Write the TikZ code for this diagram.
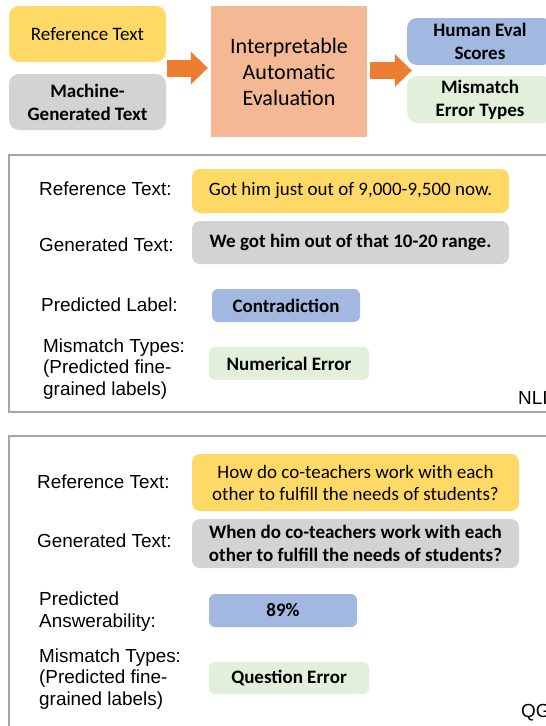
\documentclass[tikz,border=0pt]{standalone}
\usepackage{fontspec}
\setmainfont{Carlito}
\newfontfamily\lblfont{Liberation Sans}
\usetikzlibrary{arrows.meta,calc,positioning}
\definecolor{refyellow}{HTML}{FFD966}
\definecolor{gengray}{HTML}{D3D3D3}
\definecolor{predblue}{HTML}{A3B8E0}
\definecolor{mmgreen}{HTML}{E2EFDA}
\definecolor{evalsalmon}{HTML}{F4B994}
\definecolor{arroworange}{HTML}{ED7D31}
\definecolor{framegray}{HTML}{A6A6A6}

\begin{document}
\begin{tikzpicture}[x=1pt,y=-1pt]
\tikzstyle{tbox} = [rounded corners=8pt,inner sep=0pt,align=center,font=\fontsize{19}{22}\selectfont]
\tikzstyle{bbox} = [tbox,font=\bfseries\fontsize{19}{23}\selectfont]
\tikzstyle{smallbox} = [bbox,rounded corners=6pt,minimum height=33pt]
\tikzstyle{lbl} = [anchor=west,align=left,inner sep=0pt,font=\lblfont\fontsize{18.9}{21.8}\selectfont]
\tikzstyle{panel} = [draw=framegray,line width=1.6pt]
\tikzstyle{bigarrow} = [draw=arroworange,line width=17pt,-{Triangle[width=33pt,length=17pt,line width'=0pt]}]

\useasboundingbox (0,0) rectangle (546,726);
\clip (0,0) rectangle (546,726);

\node[tbox,rounded corners=10pt,fill=refyellow,minimum width=157pt,minimum height=56pt,font=\fontsize{19}{23}\selectfont] (ref) at (87.5,34) {Reference Text};
\node[bbox,rounded corners=10pt,fill=gengray,minimum width=157pt,minimum height=56pt] (mgt) at (87.5,102) {Machine-\\Generated Text};
\node[tbox,sharp corners,fill=evalsalmon,minimum width=156pt,minimum height=131pt,font=\fontsize{22}{26}\selectfont] (eval) at (289,71.5) {Interpretable\\Automatic\\Evaluation};
\node[bbox,rounded corners=10pt,fill=predblue,minimum width=146pt,minimum height=47pt] (human) at (480,41.5) {Human Eval\\Scores};
\node[bbox,rounded corners=10pt,fill=mmgreen,minimum width=146pt,minimum height=47pt] (mmtypes) at (480,99.5) {Mismatch\\Error Types};

\coordinate (inmid) at ($(ref.east)!.5!(mgt.east)$);
\coordinate (outmid) at ($(human.west)!.5!(mmtypes.west)$);
\draw[bigarrow,shorten >=3pt] ($(inmid)+(1,0)$) -- (eval.west |- inmid);
\draw[bigarrow] ($(eval.east |- outmid)+(3,0)$) -- ($(outmid)+(5,0)$);

\draw[panel] (9,155) rectangle (560,412);
\node[lbl] (nlireflbl) at (39,189) {Reference Text:};
\node[tbox,fill=refyellow,minimum width=317pt,minimum height=44pt] (nliref) at (350.5,191) {Got him just out of 9,000-9,500 now.};
\node[lbl] (nligenlbl) at (39,245) {Generated Text:};
\node[bbox,fill=gengray,minimum width=317pt,minimum height=43pt] (nligen) at (350.5,242.5) {We got him out of that 10-20 range.};
\node[lbl] (nlipredlbl) at (41,305) {Predicted Label:};
\node[smallbox,fill=predblue,minimum width=148pt] (nlipred) at (286,305.5) {Contradiction};
\node[lbl] (nlimmlbl) at (43,369) {Mismatch Types:\\(Predicted fine-\\grained labels)};
\node[smallbox,fill=mmgreen,minimum width=160pt] (nlimm) at (289,363.5) {Numerical Error};
\node[lbl] (nlitag) at (518,398) {NLI};

\draw[panel] (9,436) rectangle (560,740);
\node[lbl] (qgreflbl) at (37,482) {Reference Text:};
\node[tbox,fill=refyellow,minimum width=327pt,minimum height=57pt] (qgref) at (355.5,482.5) {How do co-teachers work with each\\other to fulfill the needs of students?};
\node[lbl] (qggenlbl) at (37,541) {Generated Text:};
\node[bbox,fill=gengray,minimum width=327pt,minimum height=49pt] (qggen) at (355.5,543.5) {When do co-teachers work with each\\other to fulfill the needs of students?};
\node[lbl] (qgpredlbl) at (39,612) {Predicted\\Answerability:};
\node[smallbox,fill=predblue,minimum width=148pt] (qgpred) at (283,610.5) {89\%};
\node[lbl] (qgmmlbl) at (39,679) {Mismatch Types:\\(Predicted fine-\\grained labels)};
\node[smallbox,fill=mmgreen,minimum width=160pt,minimum height=32pt] (qgmm) at (289,678) {Question Error};
\node[lbl] (qgtag) at (521,713) {QG};
\end{tikzpicture}
\end{document}
